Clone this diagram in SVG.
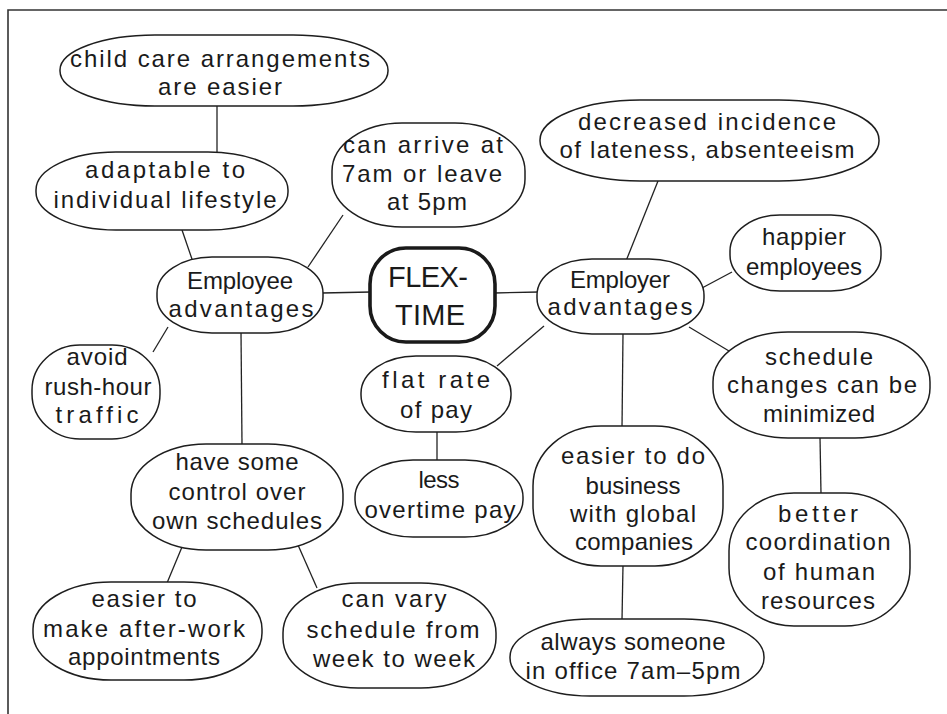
<svg xmlns="http://www.w3.org/2000/svg" width="947" height="714" viewBox="0 0 947 714">
<style>
.bg{fill:#fff}
.frame{stroke:#333;stroke-width:1.6;fill:none}
.edge{stroke:#222;stroke-width:1.3;fill:none}
.node{fill:#fff;stroke:#1e1e1e;stroke-width:1.5}
.hub{fill:#fff;stroke:#1a1a1a;stroke-width:3.6}
text{font-family:"Liberation Sans",Arial,sans-serif;font-size:24px;fill:#1a1a1a;text-anchor:middle}
.big{font-size:29px}
</style>
<rect class="bg" x="0" y="0" width="947" height="714"/>
<path class="frame" d="M8,714 V10 H947"/>
<g id="connectors">
<line class="edge" x1="217" y1="106" x2="217" y2="152"/>
<line class="edge" x1="182" y1="230" x2="193" y2="262"/>
<line class="edge" x1="343" y1="215" x2="308" y2="267"/>
<line class="edge" x1="322" y1="293" x2="371" y2="292"/>
<line class="edge" x1="168" y1="327" x2="153" y2="352"/>
<line class="edge" x1="241" y1="332" x2="242" y2="445"/>
<line class="edge" x1="182" y1="547" x2="167" y2="583"/>
<line class="edge" x1="298" y1="545" x2="317" y2="588"/>
<line class="edge" x1="494" y1="293" x2="539" y2="292"/>
<line class="edge" x1="658" y1="181" x2="626" y2="261"/>
<line class="edge" x1="732" y1="272" x2="702" y2="288"/>
<line class="edge" x1="544" y1="326" x2="497" y2="366"/>
<line class="edge" x1="623" y1="333" x2="622" y2="428"/>
<line class="edge" x1="689" y1="327" x2="734" y2="354"/>
<line class="edge" x1="437" y1="431" x2="437" y2="461"/>
<line class="edge" x1="820" y1="437" x2="821" y2="494"/>
<line class="edge" x1="623" y1="565" x2="622" y2="620"/>
</g>
<g id="n-childcare">
<rect class="node" x="60" y="35" width="328" height="71" rx="95" ry="35"/>
<text x="220" y="67" textLength="300" lengthAdjust="spacing">child care arrangements</text>
<text x="220" y="95" textLength="124" lengthAdjust="spacing">are easier</text>
</g>
<g id="n-adaptable">
<rect class="node" x="36" y="152" width="252" height="78" rx="80" ry="38"/>
<text x="165" y="178" textLength="160" lengthAdjust="spacing">adaptable to</text>
<text x="165" y="208" textLength="223" lengthAdjust="spacing">individual lifestyle</text>
</g>
<g id="n-canarrive">
<rect class="node" x="332" y="123" width="193" height="104" rx="70" ry="48"/>
<text x="423" y="153" textLength="160" lengthAdjust="spacing">can arrive at</text>
<text x="422" y="182" textLength="160" lengthAdjust="spacing">7am or leave</text>
<text x="427" y="210" textLength="80" lengthAdjust="spacing">at 5pm</text>
</g>
<g id="n-employee">
<rect class="node" x="157" y="257" width="166" height="76" rx="55" ry="36"/>
<text x="240" y="289" textLength="106" lengthAdjust="spacing">Employee</text>
<text x="241" y="317" textLength="145" lengthAdjust="spacing">advantages</text>
</g>
<g id="n-flextime">
<rect class="hub" x="370" y="248" width="125" height="94" rx="36" ry="36"/>
<text class="big" x="428" y="287" textLength="80" lengthAdjust="spacing">FLEX-</text>
<text class="big" x="430" y="325" textLength="70" lengthAdjust="spacing">TIME</text>
</g>
<g id="n-employer">
<rect class="node" x="537" y="259" width="167" height="75" rx="55" ry="36"/>
<text x="620" y="288" textLength="100" lengthAdjust="spacing">Employer</text>
<text x="620" y="315" textLength="145" lengthAdjust="spacing">advantages</text>
</g>
<g id="n-decreased">
<rect class="node" x="540" y="100" width="339" height="81" rx="100" ry="40"/>
<text x="707" y="130" textLength="258" lengthAdjust="spacing">decreased incidence</text>
<text x="707" y="158" textLength="295" lengthAdjust="spacing">of lateness, absenteeism</text>
</g>
<g id="n-happier">
<rect class="node" x="730" y="215" width="151" height="76" rx="50" ry="36"/>
<text x="804" y="245" textLength="84" lengthAdjust="spacing">happier</text>
<text x="804" y="275" textLength="116" lengthAdjust="spacing">employees</text>
</g>
<g id="n-schedule">
<rect class="node" x="713" y="332" width="217" height="106" rx="75" ry="50"/>
<text x="819" y="365" textLength="108" lengthAdjust="spacing">schedule</text>
<text x="822" y="393" textLength="190" lengthAdjust="spacing">changes can be</text>
<text x="819" y="422" textLength="112" lengthAdjust="spacing">minimized</text>
</g>
<g id="n-better">
<rect class="node" x="729" y="493" width="181" height="133" rx="65" ry="58"/>
<text x="818" y="522" textLength="80" lengthAdjust="spacing">better</text>
<text x="818" y="550" textLength="145" lengthAdjust="spacing">coordination</text>
<text x="819" y="580" textLength="112" lengthAdjust="spacing">of human</text>
<text x="818" y="609" textLength="114" lengthAdjust="spacing">resources</text>
</g>
<g id="n-easierdo">
<rect class="node" x="533" y="426" width="190" height="140" rx="68" ry="60"/>
<text x="633" y="464" textLength="144" lengthAdjust="spacing">easier to do</text>
<text x="633" y="494" textLength="95" lengthAdjust="spacing">business</text>
<text x="633" y="522" textLength="126" lengthAdjust="spacing">with global</text>
<text x="634" y="550" textLength="118" lengthAdjust="spacing">companies</text>
</g>
<g id="n-always">
<rect class="node" x="510" y="619" width="254" height="77" rx="80" ry="38"/>
<text x="633" y="650" textLength="185" lengthAdjust="spacing">always someone</text>
<text x="633" y="679" textLength="215" lengthAdjust="spacing">in office 7am–5pm</text>
</g>
<g id="n-flatrate">
<rect class="node" x="361" y="356" width="150" height="76" rx="55" ry="37"/>
<text x="436" y="388" textLength="108" lengthAdjust="spacing">flat rate</text>
<text x="436" y="418" textLength="72" lengthAdjust="spacing">of pay</text>
</g>
<g id="n-lessovertime">
<rect class="node" x="355" y="460" width="168" height="77" rx="58" ry="37"/>
<text x="439" y="488" textLength="41" lengthAdjust="spacing">less</text>
<text x="440" y="518" textLength="151" lengthAdjust="spacing">overtime pay</text>
</g>
<g id="n-avoid">
<rect class="node" x="32" y="345" width="128" height="94" rx="48" ry="45"/>
<text x="97" y="365" textLength="61" lengthAdjust="spacing">avoid</text>
<text x="98" y="395" textLength="107" lengthAdjust="spacing">rush-hour</text>
<text x="97" y="423" textLength="83" lengthAdjust="spacing">traffic</text>
</g>
<g id="n-havesome">
<rect class="node" x="131" y="444" width="212" height="106" rx="75" ry="50"/>
<text x="237" y="470" textLength="123" lengthAdjust="spacing">have some</text>
<text x="237" y="500" textLength="137" lengthAdjust="spacing">control over</text>
<text x="237" y="529" textLength="170" lengthAdjust="spacing">own schedules</text>
</g>
<g id="n-easierto">
<rect class="node" x="33" y="582" width="229" height="98" rx="78" ry="47"/>
<text x="144" y="607" textLength="105" lengthAdjust="spacing">easier to</text>
<text x="144" y="637" textLength="202" lengthAdjust="spacing">make after-work</text>
<text x="144" y="665" textLength="152" lengthAdjust="spacing">appointments</text>
</g>
<g id="n-canvary">
<rect class="node" x="283" y="583" width="213" height="105" rx="75" ry="50"/>
<text x="394" y="607" textLength="105" lengthAdjust="spacing">can vary</text>
<text x="393" y="638" textLength="173" lengthAdjust="spacing">schedule from</text>
<text x="394" y="667" textLength="162" lengthAdjust="spacing">week to week</text>
</g>
</svg>
